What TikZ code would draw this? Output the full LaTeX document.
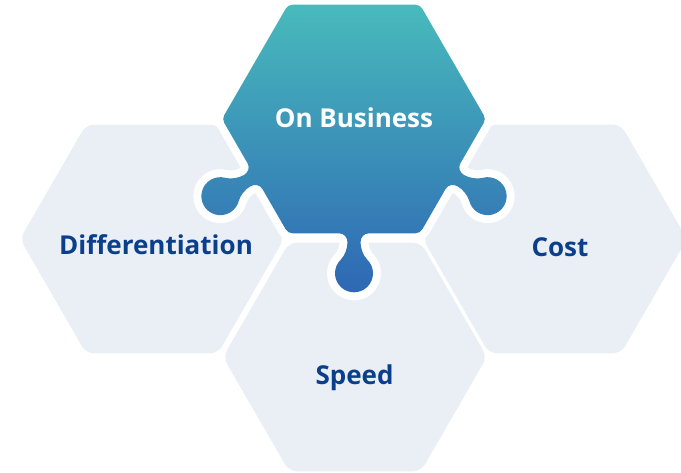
\documentclass[tikz,border=0pt]{standalone}
\usepackage{fontspec}
\setmainfont{Open Sans}
\usetikzlibrary{calc}
\definecolor{hexgray}{RGB}{234,239,246}
\definecolor{txtblue}{RGB}{11,63,140}
\definecolor{topteal}{RGB}{72,186,188}
\definecolor{botblue}{RGB}{46,103,180}
% rounded hexagon vertex: #1 vertex, #2 direction of travel into it
\newcommand\rv[2]{-- ($(#1)+(#2+180:4.62pt)$) arc[start angle=#2-90, delta angle=60, radius=8pt]}
% point of a knob: centre #1, travel direction #2, along-edge #3, outward #4
\newcommand\kp[4]{($(#1)+(#2:#3pt)+(#2-90:#4pt)$)}
% puzzle knob centred on coordinate #1, edge travelled in direction #2
\newcommand\knob[2]{-- \kp{#1}{#2}{-15}{0}
  .. controls \kp{#1}{#2}{-10}{0} and \kp{#1}{#2}{-6.5}{4} .. \kp{#1}{#2}{-6.5}{9}
  .. controls \kp{#1}{#2}{-6.5}{15} and \kp{#1}{#2}{-9.19}{22.33} .. \kp{#1}{#2}{-13.43}{26.57}
  arc[start angle=#2+135, end angle=#2+405, radius=19pt]
  .. controls \kp{#1}{#2}{9.19}{22.33} and \kp{#1}{#2}{6.5}{15} .. \kp{#1}{#2}{6.5}{9}
  .. controls \kp{#1}{#2}{6.5}{4} and \kp{#1}{#2}{10}{0} .. \kp{#1}{#2}{15}{0}}
\newcommand\grayhex[1]{\fill[hexgray, rounded corners=8pt] ($(#1)+(0:132pt)$) -- ($(#1)+(60:132pt)$) -- ($(#1)+(120:132pt)$) -- ($(#1)+(180:132pt)$) -- ($(#1)+(240:132pt)$) -- ($(#1)+(300:132pt)$) -- cycle;}
\tikzset{
  lbl/.style={anchor=base, inner sep=0pt, font=\fontsize{26}{31}\selectfont\bfseries},
}
\begin{document}
\begin{tikzpicture}[x=1pt,y=1pt]
\useasboundingbox (0,0) rectangle (681,-472);
% centres
\coordinate (cL) at (152,-239);
\coordinate (cR) at (555,-239);
\coordinate (cB) at (355,-357);
\grayhex{cL}
\grayhex{cR}
\grayhex{cB}
% top hexagon vertices
\coordinate (T0) at (354,-4.7);
\coordinate (TL) at (288,-4.7);
\coordinate (L) at (222,-119);
\coordinate (BL) at (288,-233.3);
\coordinate (BR) at (420,-233.3);
\coordinate (R0) at (486,-119);
\coordinate (TR) at (420,-4.7);
\coordinate (M1) at (255,-176.15);
\coordinate (M2) at (354,-233.3);
\coordinate (M3) at (453,-176.15);
\shade[top color=topteal, bottom color=botblue,
       preaction={draw=white, line width=16pt, line join=round}]
  (T0) \rv{TL}{180} \rv{L}{240} \knob{M1}{300} \rv{BL}{300}
  \knob{M2}{0} \rv{BR}{0} \knob{M3}{60} \rv{R0}{60} \rv{TR}{120} -- cycle;
% labels
\node[lbl, text=white] (onb) at (354,-127) {On Business};
\node[lbl, text=txtblue] (dif) at (156,-254) {Differentiation};
\node[lbl, text=txtblue] (cost) at (560,-256) {Cost};
\node[lbl, text=txtblue] (spd) at (354.5,-384) {Speed};
\end{tikzpicture}
\end{document}
